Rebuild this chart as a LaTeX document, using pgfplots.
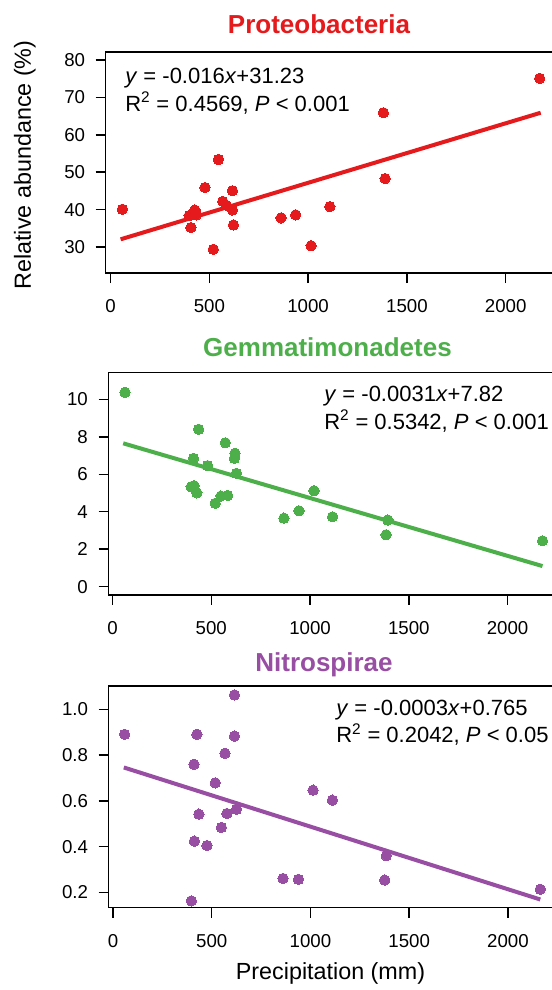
\documentclass[border=0pt]{standalone}
\usepackage{fontspec}
\setmainfont{Liberation Sans}
\usepackage{pgfplots}
\pgfplotsset{compat=1.18}
\definecolor{cred}{RGB}{228,26,28}
\definecolor{cgreen}{RGB}{77,175,74}
\definecolor{cpurple}{RGB}{152,78,163}
\pgfplotsset{
  panel/.style={
    anchor=north west, scale only axis,
    /pgf/number format/assume math mode=true,
    /pgf/number format/1000 sep={},
    axis line style={line width=1.1pt},
    tick align=outside, major tick length=7.5pt,
    every tick/.style={black, line width=1.1pt},
    xtick pos=bottom, ytick pos=left,
    tick label style={font=\fontsize{14}{16}\selectfont},
    xticklabel style={yshift=-9pt},
    yticklabel style={xshift=-4.5pt},
    xtick={0,500,1000,1500,2000},
    clip=false,
  },
  dots/.style={only marks, color=#1, mark=*, mark size=3.9pt, mark options={draw=#1, fill=#1, line width=0pt}},
  fit/.style={no marks, line width=3pt, color=#1},
}
\begin{document}
\begin{tikzpicture}
\path[use as bounding box] (0pt,0pt) rectangle (413.25pt,-742.5pt);
% Panel 1
\begin{axis}[panel, at={(79.3pt,-39pt)}, width=336pt, height=165.75pt,
  xmin=-24.3, xmax=2243, ymin=23.05, ymax=82.14, ytick={30,40,50,60,70,80}]
\addplot[fit=cred] coordinates {(51,32.06) (2177,65.9)};
\addplot[dots=cred] coordinates {
(60,40.1) (407,35.2) (398,38.4) (427,39.9) (435,38.6) (478,45.9) (546,53.4)
(520,29.4) (568,42.2) (585,41.2) (617,45.05) (617,39.9) (622,35.9) (863,37.8)
(937,38.6) (1015,30.35) (1110,40.8) (1381,65.9) (1390,48.3) (2172,75.1)};
\end{axis}
% Panel 2
\begin{axis}[panel, at={(81.4pt,-279.5pt)}, width=333.9pt, height=166.7pt,
  xmin=-20.3, xmax=2234, ymin=-0.44, ymax=11.42, ytick={0,2,4,6,8,10}]
\addplot[fit=cgreen] coordinates {(54,7.65) (2177,1.10)};
\addplot[dots=cgreen] coordinates {
(63,10.37) (436,8.40) (410,6.85) (481,6.46) (571,7.68) (620,7.12) (617,6.85)
(627,6.05) (398,5.33) (413,5.39) (427,5.01) (520,4.45) (549,4.84) (583,4.87)
(868,3.66) (944,4.05) (1020,5.12) (1114,3.73) (1394,3.56) (1385,2.77) (2177,2.45)};
\end{axis}
% Panel 3
\begin{axis}[panel, at={(81.5pt,-514.5pt)}, width=333.8pt, height=166.3pt,
  xmin=-21.8, xmax=2232, ymin=0.133, ymax=1.102, ytick={0.2,0.4,0.6,0.8,1.0},
  yticklabel style={/pgf/number format/.cd, fixed, fixed zerofill, precision=1}]
\addplot[fit=cpurple] coordinates {(55,0.746) (2164,0.169)};
\addplot[dots=cpurple] coordinates {
(59,0.891) (425,0.891) (615,1.063) (615,0.883) (567,0.808) (410,0.760) (518,0.679)
(435,0.542) (577,0.545) (625,0.563) (549,0.484) (412,0.424) (476,0.405) (397,0.163)
(1013,0.647) (1111,0.603) (1384,0.360) (1376,0.254) (861,0.261) (939,0.257) (2164,0.214)};
\end{axis}
% Titles
\node[anchor=base, text=cred, font=\fontsize{19.5}{22}\selectfont\bfseries] at (239.25pt,-24.75pt) {Proteobacteria};
\node[anchor=base, text=cgreen, font=\fontsize{19.5}{22}\selectfont\bfseries] at (245.6pt,-267.5pt) {Gemmatimonadetes};
\node[anchor=base, text=cpurple, font=\fontsize{19.5}{22}\selectfont\bfseries] at (243pt,-503.8pt) {Nitrospirae};
% Annotations
\begin{scope}[every node/.style={anchor=base west, inner sep=0pt, font=\fontsize{16.5}{19}\selectfont}]
\node at (93.75pt,-62.5pt) {\textit{y} = -0.016\textit{x}+31.23};
\node at (93.75pt,-83.25pt) {R\textsuperscript{2} = 0.4569, \textit{P} < 0.001};
\node at (243pt,-301.3pt) {\textit{y} = -0.0031\textit{x}+7.82};
\node at (243pt,-321.75pt) {R\textsuperscript{2} = 0.5342, \textit{P} < 0.001};
\node at (252pt,-536.25pt) {\textit{y} = -0.0003\textit{x}+0.765};
\node at (252pt,-557pt) {R\textsuperscript{2} = 0.2042, \textit{P} < 0.05};
\end{scope}
% Axis labels
\node[anchor=base, rotate=90, inner sep=0pt, font=\fontsize{17.5}{20}\selectfont] at (23.25pt,-123.75pt) {Relative abundance (\%)};
\node[anchor=base, inner sep=0pt, font=\fontsize{17.5}{20}\selectfont] at (247.9pt,-734.25pt) {Precipitation (mm)};
\end{tikzpicture}
\end{document}
